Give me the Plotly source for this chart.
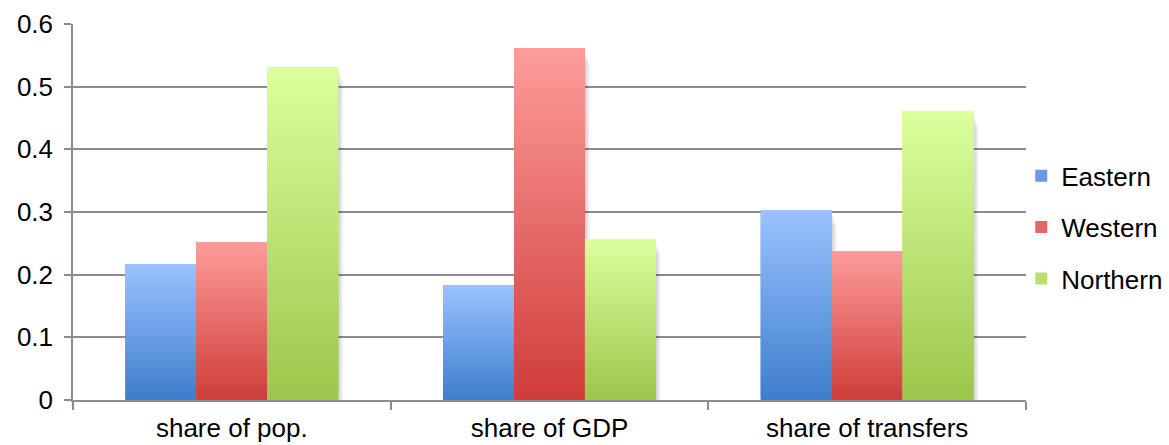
import plotly.graph_objects as go

categories = ["share of pop.", "share of GDP", "share of transfers"]
series_names = ["Eastern", "Western", "Northern"]
eastern = [0.217, 0.183, 0.303]
western = [0.252, 0.561, 0.237]
northern = [0.531, 0.257, 0.461]
y_ticks = [0, 0.1, 0.2, 0.3, 0.4, 0.5, 0.6]

# colour at the bottom and at the top of each bar's vertical gradient
gradients = {
    "Eastern": ((0x3E, 0x7E, 0xCC), (0x9A, 0xC2, 0xFF)),
    "Western": ((0xCF, 0x3D, 0x3A), (0xFD, 0x9C, 0x99)),
    "Northern": ((0x9C, 0xC6, 0x4B), (0xDC, 0xFF, 0x9C)),
}
values = {"Eastern": eastern, "Western": western, "Northern": northern}

BAR_W = 0.2233
offsets = {"Eastern": -0.335, "Western": -0.335 + BAR_W, "Northern": -0.335 + 2 * BAR_W}
N_SEG = 70
PX_X = 1 / 317.7      # one pixel along the category axis
PX_Y = 0.6 / 376.5    # one pixel along the value axis


def mix(c0, c1, t):
    return "rgb(%d,%d,%d)" % tuple(round(a + (b - a) * t) for a, b in zip(c0, c1))


fig = go.Figure()

# soft drop shadow behind every bar
for name in series_names:
    vals = values[name]
    for k in range(1, 6):
        fig.add_trace(go.Bar(
            x=categories, y=[max(v - 3 * k * PX_Y, 0) for v in vals],
            offset=offsets[name] + k * PX_X, width=BAR_W,
            marker=dict(color="rgba(0,0,0,0.035)", line=dict(width=0)),
            showlegend=False, hoverinfo="skip",
        ))

for name in series_names:
    vals = values[name]
    lo, hi = gradients[name]
    # full bar (also provides the legend entry)
    fig.add_trace(go.Bar(
        x=categories, y=vals, name=name, legendgroup=name,
        offset=offsets[name], width=BAR_W,
        marker=dict(color=mix(lo, hi, 0.45), line=dict(width=0)),
    ))
    # gradient slices stacked over the bar, bottom to top
    for k in range(N_SEG):
        b = k / N_SEG
        t = min((k + 2) / N_SEG, 1.0)
        fig.add_trace(go.Bar(
            x=categories,
            y=[v * (t - b) for v in vals],
            base=[v * b for v in vals],
            offset=offsets[name], width=BAR_W,
            marker=dict(color=mix(lo, hi, (k + 0.5) / N_SEG), line=dict(width=0)),
            showlegend=False, legendgroup=name, hoverinfo="skip",
        ))

axis_grey = "#8c8c8c"
fig.update_layout(
    width=1169, height=445,
    margin=dict(l=73, r=143, t=23.5, b=45, autoexpand=False),
    paper_bgcolor="white", plot_bgcolor="white",
    barmode="overlay",
    font=dict(family="Liberation Sans, Arial, sans-serif", size=26, color="black"),
    showlegend=True,
    legend=dict(
        x=0.995, xanchor="left", y=0.459, yanchor="middle",
        font=dict(size=26), tracegroupgap=14.5, itemsizing="constant",
        bgcolor="rgba(0,0,0,0)",
    ),
    xaxis=dict(
        type="category", showgrid=False, showline=True, linecolor=axis_grey, linewidth=1.5,
        ticks="outside", tickson="boundaries", ticklen=8, tickcolor=axis_grey, tickwidth=1.5,
        range=[-0.5, 2.5], ticklabelstandoff=4, automargin=False,
    ),
    yaxis=dict(
        range=[0, 0.6], tickvals=y_ticks, ticktext=[f"{v:g}" for v in y_ticks],
        showgrid=True, gridcolor=axis_grey, gridwidth=1.5,
        showline=True, linecolor=axis_grey, linewidth=1.5,
        ticks="outside", ticklen=7, tickcolor=axis_grey, tickwidth=1.5,
        zeroline=False, ticklabelstandoff=6, automargin=False,
    ),
)

fig.write_html("out.html")
